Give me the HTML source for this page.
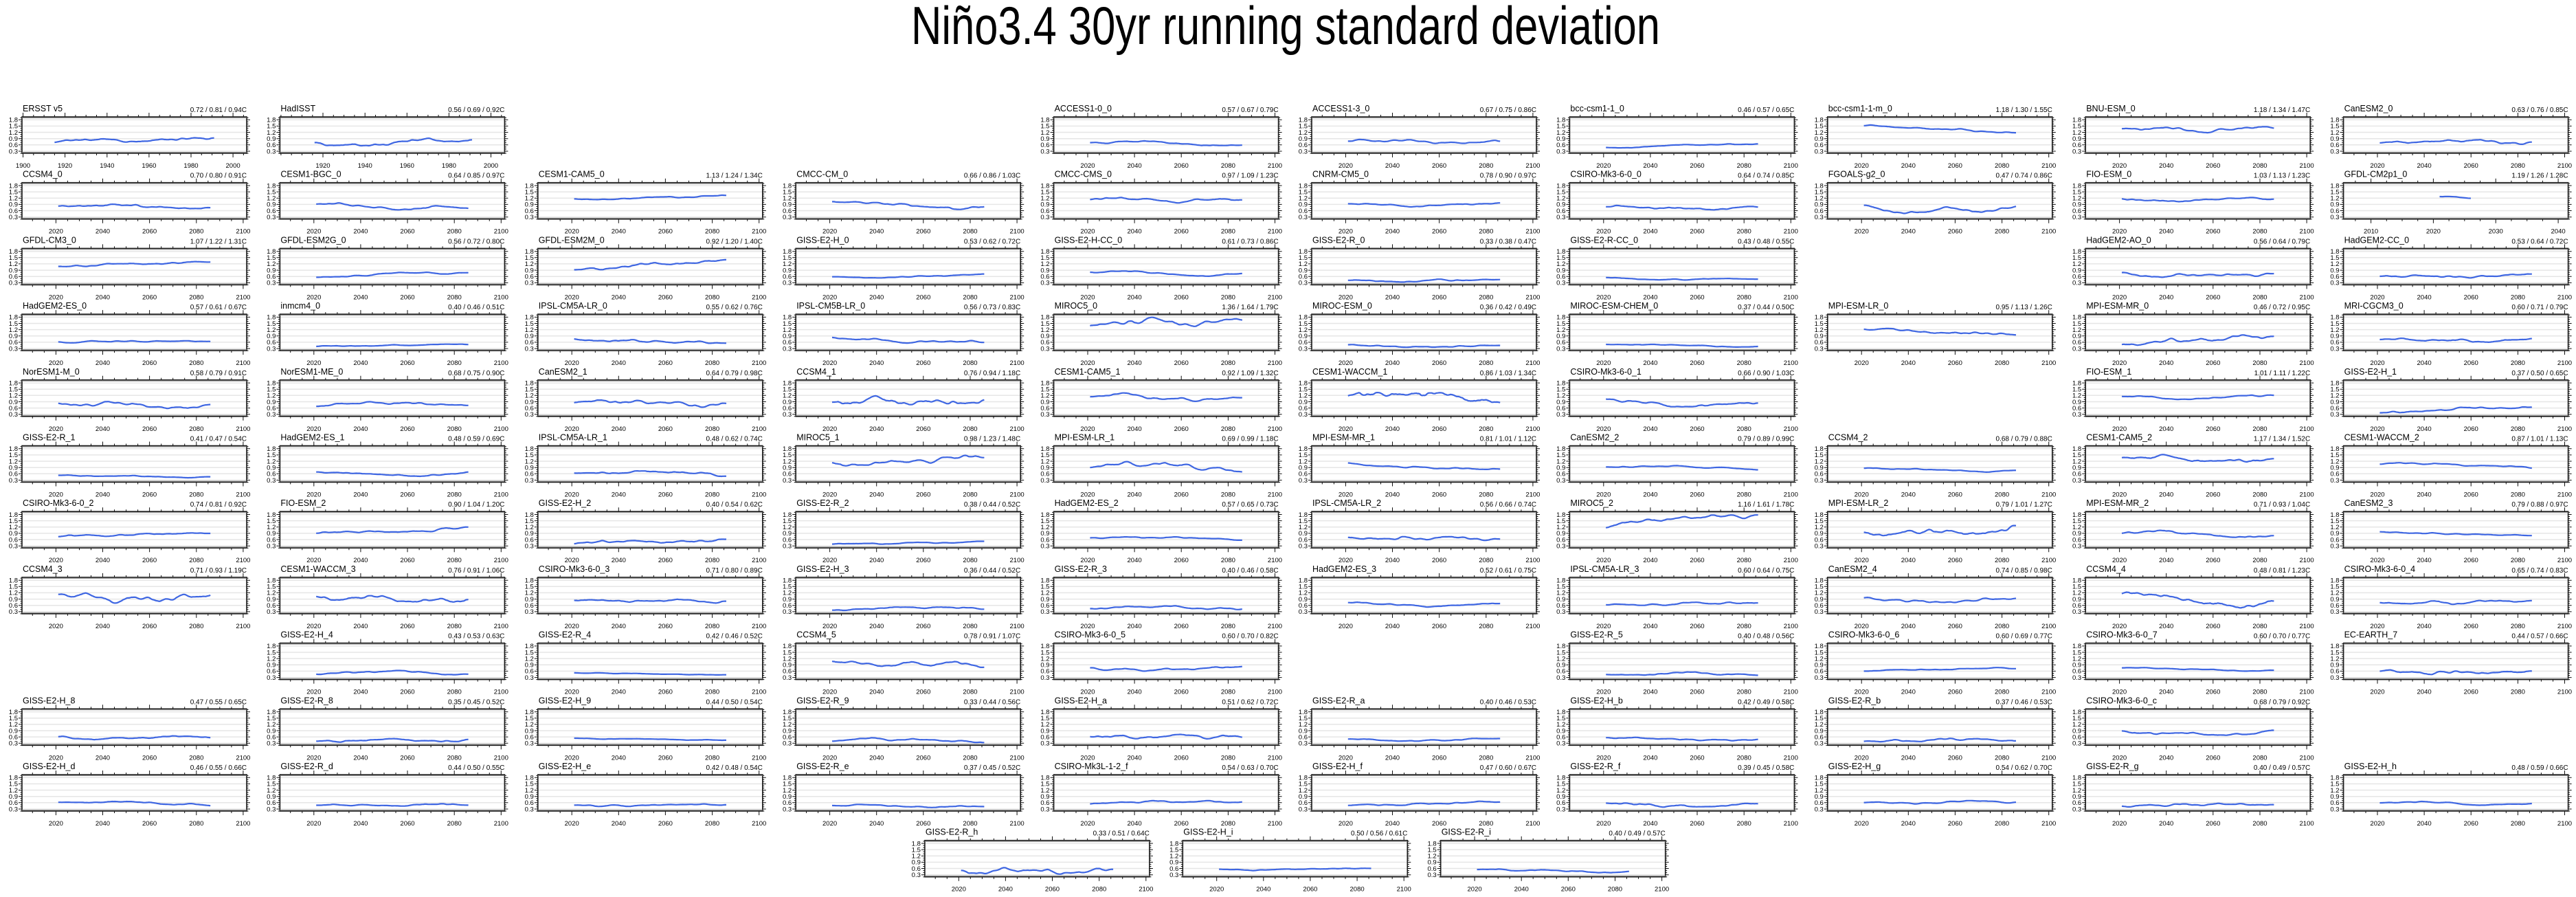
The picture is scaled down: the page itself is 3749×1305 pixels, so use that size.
<!DOCTYPE html>
<html><head><meta charset="utf-8">
<style>
html,body{margin:0;padding:0;background:#fff;}
svg{display:block;}
text{font-family:"Liberation Sans",sans-serif;fill:#000;}
</style></head>
<body>
<svg id="s" width="3749" height="1305" viewBox="0 0 3749 1305" xmlns="http://www.w3.org/2000/svg">
<rect width="3749" height="1305" fill="#fff"/>
<text x="1871" y="64" font-size="78" text-anchor="middle" textLength="1090" lengthAdjust="spacingAndGlyphs">Niño3.4 30yr running standard deviation</text>
</svg>
<script>
var P=[
[0,0,"ERSST v5","0.72 / 0.81 / 0.94C","h"],
[0,1,"HadISST","0.56 / 0.69 / 0.92C","h2"],
[0,4,"ACCESS1-0_0","0.57 / 0.67 / 0.79C"],
[0,5,"ACCESS1-3_0","0.67 / 0.75 / 0.86C"],
[0,6,"bcc-csm1-1_0","0.46 / 0.57 / 0.65C"],
[0,7,"bcc-csm1-1-m_0","1.18 / 1.30 / 1.55C"],
[0,8,"BNU-ESM_0","1.18 / 1.34 / 1.47C"],
[0,9,"CanESM2_0","0.63 / 0.76 / 0.85C"],
[1,0,"CCSM4_0","0.70 / 0.80 / 0.91C"],
[1,1,"CESM1-BGC_0","0.64 / 0.85 / 0.97C"],
[1,2,"CESM1-CAM5_0","1.13 / 1.24 / 1.34C"],
[1,3,"CMCC-CM_0","0.66 / 0.86 / 1.03C"],
[1,4,"CMCC-CMS_0","0.97 / 1.09 / 1.23C"],
[1,5,"CNRM-CM5_0","0.78 / 0.90 / 0.97C"],
[1,6,"CSIRO-Mk3-6-0_0","0.64 / 0.74 / 0.85C"],
[1,7,"FGOALS-g2_0","0.47 / 0.74 / 0.86C"],
[1,8,"FIO-ESM_0","1.03 / 1.13 / 1.23C"],
[1,9,"GFDL-CM2p1_0","1.19 / 1.26 / 1.28C","g"],
[2,0,"GFDL-CM3_0","1.07 / 1.22 / 1.31C"],
[2,1,"GFDL-ESM2G_0","0.56 / 0.72 / 0.80C"],
[2,2,"GFDL-ESM2M_0","0.92 / 1.20 / 1.40C"],
[2,3,"GISS-E2-H_0","0.53 / 0.62 / 0.72C"],
[2,4,"GISS-E2-H-CC_0","0.61 / 0.73 / 0.86C"],
[2,5,"GISS-E2-R_0","0.33 / 0.38 / 0.47C"],
[2,6,"GISS-E2-R-CC_0","0.43 / 0.48 / 0.55C"],
[2,8,"HadGEM2-AO_0","0.56 / 0.64 / 0.79C"],
[2,9,"HadGEM2-CC_0","0.53 / 0.64 / 0.72C"],
[3,0,"HadGEM2-ES_0","0.57 / 0.61 / 0.67C"],
[3,1,"inmcm4_0","0.40 / 0.46 / 0.51C"],
[3,2,"IPSL-CM5A-LR_0","0.55 / 0.62 / 0.76C"],
[3,3,"IPSL-CM5B-LR_0","0.56 / 0.73 / 0.83C"],
[3,4,"MIROC5_0","1.36 / 1.64 / 1.79C"],
[3,5,"MIROC-ESM_0","0.36 / 0.42 / 0.49C"],
[3,6,"MIROC-ESM-CHEM_0","0.37 / 0.44 / 0.50C"],
[3,7,"MPI-ESM-LR_0","0.95 / 1.13 / 1.26C"],
[3,8,"MPI-ESM-MR_0","0.46 / 0.72 / 0.95C"],
[3,9,"MRI-CGCM3_0","0.60 / 0.71 / 0.79C"],
[4,0,"NorESM1-M_0","0.58 / 0.79 / 0.91C"],
[4,1,"NorESM1-ME_0","0.68 / 0.75 / 0.90C"],
[4,2,"CanESM2_1","0.64 / 0.79 / 0.98C"],
[4,3,"CCSM4_1","0.76 / 0.94 / 1.18C"],
[4,4,"CESM1-CAM5_1","0.92 / 1.09 / 1.32C"],
[4,5,"CESM1-WACCM_1","0.86 / 1.03 / 1.34C"],
[4,6,"CSIRO-Mk3-6-0_1","0.66 / 0.90 / 1.03C"],
[4,8,"FIO-ESM_1","1.01 / 1.11 / 1.22C"],
[4,9,"GISS-E2-H_1","0.37 / 0.50 / 0.65C"],
[5,0,"GISS-E2-R_1","0.41 / 0.47 / 0.54C"],
[5,1,"HadGEM2-ES_1","0.48 / 0.59 / 0.69C"],
[5,2,"IPSL-CM5A-LR_1","0.48 / 0.62 / 0.74C"],
[5,3,"MIROC5_1","0.98 / 1.23 / 1.48C"],
[5,4,"MPI-ESM-LR_1","0.69 / 0.99 / 1.18C"],
[5,5,"MPI-ESM-MR_1","0.81 / 1.01 / 1.12C"],
[5,6,"CanESM2_2","0.79 / 0.89 / 0.99C"],
[5,7,"CCSM4_2","0.68 / 0.79 / 0.88C"],
[5,8,"CESM1-CAM5_2","1.17 / 1.34 / 1.52C"],
[5,9,"CESM1-WACCM_2","0.87 / 1.01 / 1.13C"],
[6,0,"CSIRO-Mk3-6-0_2","0.74 / 0.81 / 0.92C"],
[6,1,"FIO-ESM_2","0.90 / 1.04 / 1.20C"],
[6,2,"GISS-E2-H_2","0.40 / 0.54 / 0.62C"],
[6,3,"GISS-E2-R_2","0.38 / 0.44 / 0.52C"],
[6,4,"HadGEM2-ES_2","0.57 / 0.65 / 0.73C"],
[6,5,"IPSL-CM5A-LR_2","0.56 / 0.66 / 0.74C"],
[6,6,"MIROC5_2","1.16 / 1.61 / 1.78C"],
[6,7,"MPI-ESM-LR_2","0.79 / 1.01 / 1.27C"],
[6,8,"MPI-ESM-MR_2","0.71 / 0.93 / 1.04C"],
[6,9,"CanESM2_3","0.79 / 0.88 / 0.97C"],
[7,0,"CCSM4_3","0.71 / 0.93 / 1.19C"],
[7,1,"CESM1-WACCM_3","0.76 / 0.91 / 1.06C"],
[7,2,"CSIRO-Mk3-6-0_3","0.71 / 0.80 / 0.89C"],
[7,3,"GISS-E2-H_3","0.36 / 0.44 / 0.52C"],
[7,4,"GISS-E2-R_3","0.40 / 0.46 / 0.58C"],
[7,5,"HadGEM2-ES_3","0.52 / 0.61 / 0.75C"],
[7,6,"IPSL-CM5A-LR_3","0.60 / 0.64 / 0.75C"],
[7,7,"CanESM2_4","0.74 / 0.85 / 0.98C"],
[7,8,"CCSM4_4","0.48 / 0.81 / 1.23C"],
[7,9,"CSIRO-Mk3-6-0_4","0.65 / 0.74 / 0.83C"],
[8,1,"GISS-E2-H_4","0.43 / 0.53 / 0.63C"],
[8,2,"GISS-E2-R_4","0.42 / 0.46 / 0.52C"],
[8,3,"CCSM4_5","0.78 / 0.91 / 1.07C"],
[8,4,"CSIRO-Mk3-6-0_5","0.60 / 0.70 / 0.82C"],
[8,6,"GISS-E2-R_5","0.40 / 0.48 / 0.56C"],
[8,7,"CSIRO-Mk3-6-0_6","0.60 / 0.69 / 0.77C"],
[8,8,"CSIRO-Mk3-6-0_7","0.60 / 0.70 / 0.77C"],
[8,9,"EC-EARTH_7","0.44 / 0.57 / 0.66C"],
[9,0,"GISS-E2-H_8","0.47 / 0.55 / 0.65C"],
[9,1,"GISS-E2-R_8","0.35 / 0.45 / 0.52C"],
[9,2,"GISS-E2-H_9","0.44 / 0.50 / 0.54C"],
[9,3,"GISS-E2-R_9","0.33 / 0.44 / 0.56C"],
[9,4,"GISS-E2-H_a","0.51 / 0.62 / 0.72C"],
[9,5,"GISS-E2-R_a","0.40 / 0.46 / 0.53C"],
[9,6,"GISS-E2-H_b","0.42 / 0.49 / 0.58C"],
[9,7,"GISS-E2-R_b","0.37 / 0.46 / 0.53C"],
[9,8,"CSIRO-Mk3-6-0_c","0.68 / 0.79 / 0.92C"],
[10,0,"GISS-E2-H_d","0.46 / 0.55 / 0.66C"],
[10,1,"GISS-E2-R_d","0.44 / 0.50 / 0.55C"],
[10,2,"GISS-E2-H_e","0.42 / 0.48 / 0.54C"],
[10,3,"GISS-E2-R_e","0.37 / 0.45 / 0.52C"],
[10,4,"CSIRO-Mk3L-1-2_f","0.54 / 0.63 / 0.70C"],
[10,5,"GISS-E2-H_f","0.47 / 0.60 / 0.67C"],
[10,6,"GISS-E2-R_f","0.39 / 0.45 / 0.58C"],
[10,7,"GISS-E2-H_g","0.54 / 0.62 / 0.70C"],
[10,8,"GISS-E2-R_g","0.40 / 0.49 / 0.57C"],
[10,9,"GISS-E2-H_h","0.48 / 0.59 / 0.66C"],
[11,3.5,"GISS-E2-R_h","0.33 / 0.51 / 0.64C"],
[11,4.5,"GISS-E2-H_i","0.50 / 0.56 / 0.61C"],
[11,5.5,"GISS-E2-R_i","0.40 / 0.49 / 0.57C"]
];
var seed=12345;
function rnd(){seed=(seed*1103515245+12345)%2147483648;return seed/2147483648;}
var out=[];
function f(v){return v.toFixed(1);}
P.forEach(function(p,idx){
  var r=p[0],c=p[1],name=p[2],st=p[3],type=p[4]||"f";
  var T=157+95.7*r, L=32+375.4*c, W=327, top=T+13, bot=T+66, R=L+W;
  var x0,x1,labels,minor,d0,d1;
  if(type=="h"||type=="h2"){x0=1899.5;x1=2006.5;labels=type=="h"?[1900,1920,1940,1960,1980,2000]:[1920,1940,1960,1980,2000];minor=5;d0=type=="h"?1915:1916;d1=1991;}
  else if(type=="g"){x0=2005.6;x1=2041.6;labels=[2010,2020,2030,2040];minor=2.5;d0=2021;d1=2026;}
  else {x0=2005.5;x1=2101.5;labels=[2020,2040,2060,2080,2100];minor=5;d0=2021;d1=2086;}
  function X(y){return L+(y-x0)/(x1-x0)*W;}
  function Y(v){return top+(1.94-v)/(1.74)*53;}
  var s="";
  // gridlines
  for(var g=0.3;g<1.85;g+=0.3){s+='<line x1="'+L+'" x2="'+R+'" y1="'+f(Y(g))+'" y2="'+f(Y(g))+'" stroke="#e6e6e6" stroke-width="1.5"/>';}
  // data
  var st3=st.replace("C","").split(" / ").map(parseFloat);
  var n=Math.max(12,Math.round((d1-d0)*2)), w=[],a=0;
  for(var i=0;i<n;i++){a+=(rnd()-0.5);w.push(a);}
  // smooth
  var sm=[];for(i=0;i<n;i++){var t=0,k=0;for(var j=i-2;j<=i+2;j++){if(j>=0&&j<n){t+=w[j];k++;}}sm.push(t/k);}
  var mn=Math.min.apply(null,sm),mx=Math.max.apply(null,sm);if(mx-mn<1e-6)mx=mn+1;
  var pts=[];for(i=0;i<n;i++){var v=st3[0]+(sm[i]-mn)/(mx-mn)*(st3[2]-st3[0]);var yr=d0+(d1-d0)*i/(n-1);pts.push(f(X(yr))+","+f(Y(v)));}
  s+='<polyline points="'+pts.join(" ")+'" fill="none" stroke="#3e66e2" stroke-width="2.2" stroke-linejoin="round"/>';
  // box
  s+='<rect x="'+L+'" y="'+top+'" width="'+W+'" height="'+(bot-top)+'" fill="none" stroke="#1a1a1a" stroke-width="1.6"/>';
  s+='<line x1="'+L+'" x2="'+R+'" y1="'+(top+1.5)+'" y2="'+(top+1.5)+'" stroke="#888" stroke-width="1"/>';
  s+='<line x1="'+L+'" x2="'+R+'" y1="'+(bot-1.5)+'" y2="'+(bot-1.5)+'" stroke="#888" stroke-width="1"/>';
  // x ticks
  var tk="";
  for(var yv=Math.ceil(x0/minor)*minor;yv<=x1;yv+=minor){
    var xx=f(X(yv)), maj=labels.indexOf(yv)>=0, len=maj?6:3;
    tk+='M'+xx+' '+top+'v-'+len+'M'+xx+' '+bot+'v'+len;
  }
  // y ticks
  for(var yy=0.2;yy<1.945;yy+=0.1){
    var py=f(Y(yy)), mj=Math.abs(yy/0.3-Math.round(yy/0.3))<0.01, ln=mj?5:2.5;
    tk+='M'+L+' '+py+'h-'+ln+'M'+R+' '+py+'h'+ln;
  }
  s+='<path d="'+tk+'" stroke="#111" stroke-width="1" fill="none"/>';
  // labels
  labels.forEach(function(lb){s+='<text x="'+f(X(lb))+'" y="'+(T+87)+'" font-size="9.5" text-anchor="middle">'+lb+'</text>';});
  ["1.8","1.5","1.2","0.9","0.6","0.3"].forEach(function(lb){s+='<text x="'+(L-6)+'" y="'+f(Y(parseFloat(lb))+3.3)+'" font-size="9.5" text-anchor="end">'+lb+'</text>';});
  s+='<text x="'+(L+1)+'" y="'+(T+5)+'" font-size="12.5">'+name+'</text>';
  s+='<text x="'+R+'" y="'+(T+6)+'" font-size="10" text-anchor="end">'+st+'</text>';
  out.push(s);
});
document.getElementById("s").insertAdjacentHTML("beforeend",out.join(""));
</script>
</body></html>
